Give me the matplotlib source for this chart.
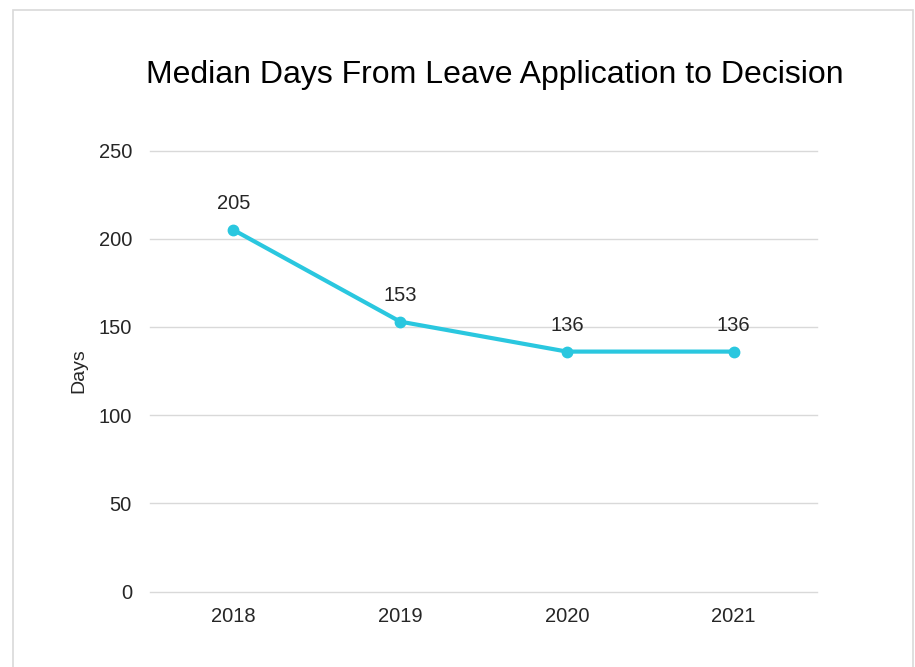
import matplotlib.pyplot as plt
from matplotlib.patches import Rectangle

plt.rcParams['font.family'] = ['Liberation Sans', 'DejaVu Sans']

# Data
years = ["2018", "2019", "2020", "2021"]
median_days = [205, 153, 136, 136]
y_ticks = [0, 50, 100, 150, 200, 250]

line_color = "#2AC7DF"
text_color = "#262626"

fig = plt.figure(figsize=(9.15, 6.67), dpi=100)
ax = fig.add_axes([150 / 915, 75.5 / 667, 667 / 915, 441 / 667])

# chart border
fig.patches.append(Rectangle((12.5 / 915, -0.1), 900 / 915, (657.5 / 667) + 0.1,
                             transform=fig.transFigure, fill=False,
                             edgecolor="#D9D9D9", linewidth=1.2))

x = list(range(len(years)))
ax.plot(x, median_days, color=line_color, linewidth=3, marker="o",
        markersize=7.5, solid_capstyle="round", zorder=3)

for xi, v in zip(x, median_days):
    ax.annotate(str(v), (xi, v), xytext=(0, 12), textcoords="offset points",
                ha="center", va="bottom", fontsize=14.5, color=text_color)

ax.set_xlim(-0.5, 3.5)
ax.set_ylim(0, 250)
ax.set_yticks(y_ticks)
ax.set_xticks(x)
ax.set_xticklabels(years)
ax.grid(axis="y", color="#D9D9D9", linewidth=1)
for gl in ax.get_ygridlines():
    gl.set_clip_on(False)
ax.set_axisbelow(True)
for s in ax.spines.values():
    s.set_visible(False)
ax.tick_params(length=0, labelsize=14.5, labelcolor=text_color)
ax.tick_params(axis="y", pad=13)
ax.tick_params(axis="x", pad=11)

ax.set_ylabel("Days", fontsize=14, color=text_color)
ax.yaxis.set_label_coords(-0.094, 0.5)
fig.text(495 / 915, 1 - 75 / 667, "Median Days From Leave Application to Decision",
         ha="center", va="center", fontsize=23, color="#000000")

fig.savefig("out.png", dpi=100)
